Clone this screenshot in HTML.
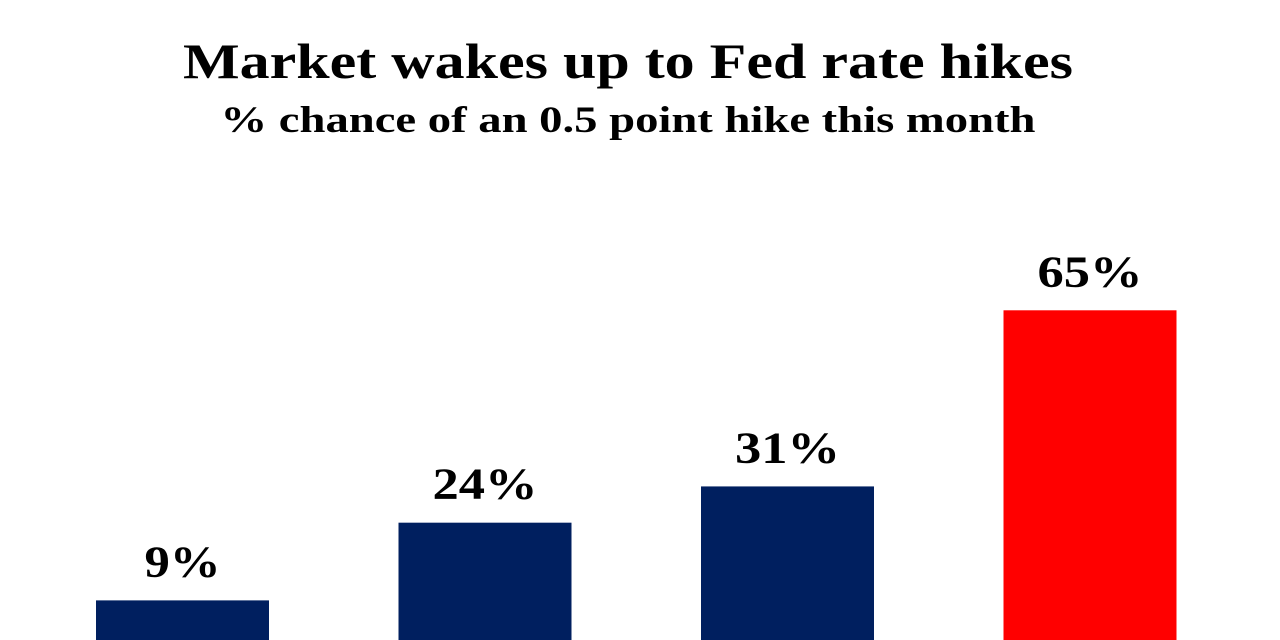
<!DOCTYPE html>
<html>
<head>
<meta charset="utf-8">
<style>
html,body{margin:0;padding:0;background:#fff;}
svg{display:block;}
text{font-family:"Liberation Serif",serif;font-weight:bold;fill:#000;}
</style>
</head>
<body>
<svg width="1280" height="640" viewBox="0 0 1280 640">
<text x="628" y="78" text-anchor="middle" font-size="50" textLength="890" lengthAdjust="spacingAndGlyphs">Market wakes up to Fed rate hikes</text>
<text x="628" y="132" text-anchor="middle" font-size="37" textLength="815" lengthAdjust="spacingAndGlyphs">% chance of an 0.5 point hike this month</text>
<g id="bars"></g>
</svg>
<script>
const categories = ["a", "b", "c", "d"];
const values = [9, 24, 31, 65];
const valueLabels = ["9%", "24%", "31%", "65%"];
const colors = ["#001f5f", "#001f5f", "#001f5f", "#ff0000"];

const baseline = 647;
const pxPerUnit = 5.18;
const yScale = v => baseline - v * pxPerUnit;
const xStart = 96, step = 302.5, barW = 173;
const xScale = i => xStart + i * step;

const g = document.getElementById('bars');
const ns = 'http://www.w3.org/2000/svg';
categories.forEach((c, i) => {
  const r = document.createElementNS(ns, 'rect');
  
  
  r.setAttribute('x', xScale(i));
  r.setAttribute('y', yScale(values[i]));
  r.setAttribute('width', barW);
  r.setAttribute('height', baseline - yScale(values[i]));
  r.setAttribute('fill', colors[i]);
  g.appendChild(r);
  const t = document.createElementNS(ns, 'text');
  
  
  t.setAttribute('x', xScale(i) + barW / 2);
  t.setAttribute('y', yScale(values[i]) - 24);
  t.setAttribute('text-anchor', 'middle');
  t.setAttribute('font-size', '44');
  t.setAttribute('textLength', 29 * valueLabels[i].length + 18);
  t.setAttribute('lengthAdjust', 'spacingAndGlyphs');
  t.textContent = valueLabels[i];
  g.appendChild(t);
});
</script>
</body>
</html>
